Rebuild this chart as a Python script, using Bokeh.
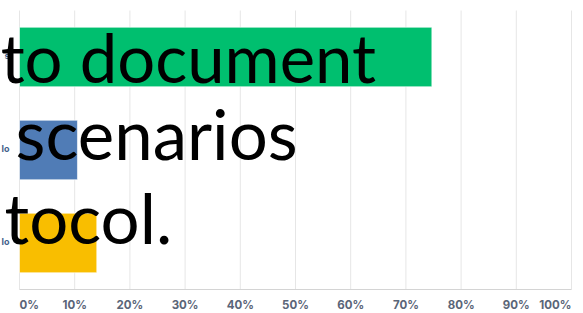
from bokeh.plotting import figure
from bokeh.models import Label, Range1d
from bokeh.embed import file_html
from bokeh.resources import INLINE

# ---- data ----
positions = [3, 2, 1]                       # top to bottom
category_fragments = ["s", "lo", "lo"]      # visible ends of the (cropped) category labels
values = [74.7, 10.5, 14.0]                 # percent
colors = ["#00BF6F", "#507CB6", "#F9BE00"]
tick_values = [0, 10, 20, 30, 40, 50, 60, 70, 80, 90, 100]
tick_labels = ["0%", "10%", "20%", "30%", "40%", "50%", "60%", "70%", "80%", "90%", "100%"]
overlay_texts = ["to document", "scenarios", "tocol."]
overlay_x = [-3.4, -0.72, -2.7]
overlay_y = [3.0, 2.177, 1.274]
overlay_sizes = ["67px", "69px", "69px"]

# ---- layout (pixel geometry of the plot area) ----
W, H = 583, 313
px_x = 5.52          # pixels per percent
px_y = 93.0          # pixels per category
left_pad, top_pad, bottom_pad = 19, 10, 24

x0 = -left_pad / px_x
y1 = 3.5 + top_pad / px_y
y0 = 0.5 - bottom_pad / px_y

p = figure(width=W, height=H, output_backend="svg", toolbar_location=None,
           x_axis_location=None, y_axis_location=None,
           min_border=0, min_border_left=0, min_border_right=0,
           min_border_top=0, min_border_bottom=0)
p.x_range = Range1d(x0, x0 + W / px_x)
p.y_range = Range1d(y0, y1)
p.outline_line_color = None
p.background_fill_color = "white"
p.border_fill_color = "white"
p.xgrid.grid_line_color = None
p.ygrid.grid_line_color = None

# vertical grid lines
p.segment(x0=tick_values, y0=0.5, x1=tick_values, y1=3.5,
          line_color="#e6e6e6", line_width=1)

# bars
p.hbar(y=positions, left=0, right=values, height=0.64, fill_color=colors,
       line_color="white", line_alpha=0.6, line_width=1)

# bottom axis line
p.segment(x0=[0], y0=[0.5], x1=[100], y1=[0.5], line_color="#d4d4d4", line_width=1)

# tick labels (x)
for i, (tv, tl) in enumerate(zip(tick_values, tick_labels)):
    align = "left" if i == 0 else ("right" if i == len(tick_values) - 1 else "center")
    p.add_layout(Label(x=tv, y=0.5 - 15 / px_y, text=tl, text_align=align,
                       text_baseline="middle", text_font="Inter", text_font_style="bold",
                       text_font_size="11.5px", text_color="#5a6578"))

# category label fragments (y), cropped at the left edge
for pos, frag in zip(positions, category_fragments):
    p.add_layout(Label(x=-10 / px_x, y=pos + 2 / px_y, text=frag, text_align="right",
                       text_baseline="middle", text_font="Inter", text_font_style="bold",
                       text_font_size="9px", text_color="#44618a"))

# overlaid large text
for t, x, y, s in zip(overlay_texts, overlay_x, overlay_y, overlay_sizes):
    p.add_layout(Label(x=x, y=y, text=t, text_align="left", text_baseline="alphabetic",
                       text_font="Lato", text_font_size=s, text_color="black"))

open("out.html", "w").write(file_html(p, INLINE))
